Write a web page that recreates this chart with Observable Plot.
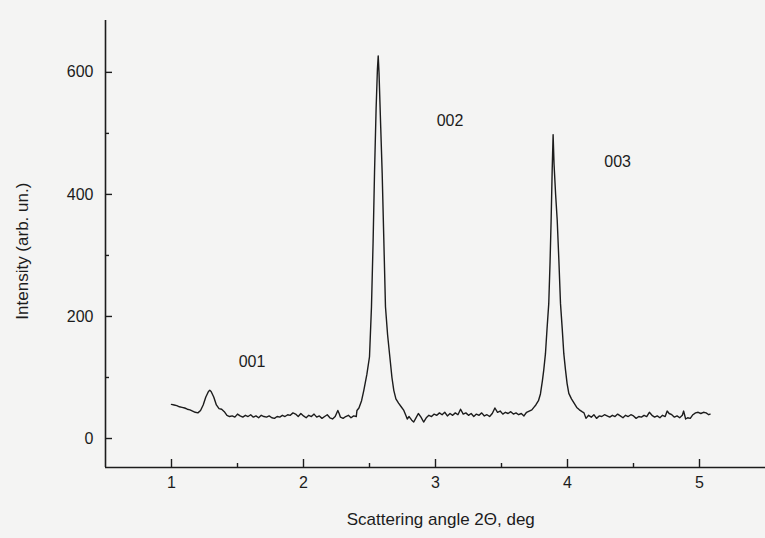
<!DOCTYPE html>
<html>
<head>
<meta charset="utf-8">
<script src="https://cdn.jsdelivr.net/npm/d3@7"></script>
<script src="https://cdn.jsdelivr.net/npm/@observablehq/plot@0.6"></script>
<style>
  html, body { margin: 0; padding: 0; background: #f4f4f3; }
  #chart svg { display: block; background: #f4f4f3; }
</style>
</head>
<body>
<div id="chart"></div>
<script>
// Scattering angle 2Θ (deg)
const angle = [
  1.00, 1.02, 1.04, 1.06, 1.08, 1.10, 1.12, 1.14, 1.16, 1.18, 1.20, 1.22, 1.24, 1.26, 1.28, 1.29, 1.30, 1.32, 1.34, 1.36,
  1.38, 1.40, 1.42, 1.44, 1.46, 1.48, 1.50, 1.52, 1.54, 1.56, 1.58, 1.60, 1.62, 1.64, 1.66, 1.68, 1.70, 1.72, 1.74, 1.76,
  1.78, 1.80, 1.82, 1.84, 1.86, 1.88, 1.90, 1.92, 1.94, 1.96, 1.98, 2.00, 2.02, 2.04, 2.06, 2.08, 2.10, 2.12, 2.14, 2.16,
  2.18, 2.20, 2.22, 2.24, 2.26, 2.27, 2.28, 2.30, 2.32, 2.34, 2.36, 2.38, 2.40, 2.405, 2.42, 2.44, 2.457, 2.48, 2.50, 2.515,
  2.527, 2.538, 2.55, 2.56, 2.566, 2.572, 2.585, 2.596, 2.608, 2.621, 2.637, 2.654, 2.67, 2.684, 2.70, 2.72, 2.74, 2.76, 2.775, 2.786,
  2.80, 2.82, 2.835, 2.85, 2.87, 2.89, 2.91, 2.93, 2.95, 2.97, 2.99, 3.01, 3.03, 3.05, 3.07, 3.09, 3.11, 3.13, 3.15, 3.17,
  3.19, 3.21, 3.23, 3.25, 3.27, 3.29, 3.31, 3.33, 3.35, 3.37, 3.39, 3.41, 3.43, 3.45, 3.47, 3.49, 3.51, 3.53, 3.55, 3.57,
  3.59, 3.61, 3.63, 3.65, 3.67, 3.69, 3.71, 3.73, 3.745, 3.76, 3.78, 3.795, 3.81, 3.82, 3.833, 3.845, 3.858, 3.868, 3.876, 3.884,
  3.891, 3.898, 3.91, 3.922, 3.935, 3.947, 3.96, 3.972, 3.985, 3.997, 4.01, 4.03, 4.05, 4.07, 4.09, 4.11, 4.125, 4.14, 4.16, 4.18,
  4.20, 4.22, 4.24, 4.26, 4.28, 4.30, 4.32, 4.34, 4.36, 4.38, 4.40, 4.42, 4.44, 4.46, 4.48, 4.50, 4.52, 4.54, 4.56, 4.58,
  4.60, 4.62, 4.64, 4.66, 4.68, 4.70, 4.72, 4.74, 4.755, 4.77, 4.79, 4.81, 4.83, 4.85, 4.87, 4.88, 4.895, 4.91, 4.93, 4.95,
  4.97, 4.99, 5.01, 5.03, 5.05, 5.07, 5.08
];
// Intensity (arb. un.)
const intensity = [
  56, 55, 54, 52, 51, 50, 48, 47, 45, 43, 42, 46, 55, 68, 77, 79, 77, 68, 55, 49,
  48, 44, 38, 36, 37, 35, 40, 37, 35, 38, 36, 39, 35, 37, 34, 38, 36, 35, 37, 34,
  33, 36, 35, 38, 36, 39, 38, 42, 40, 36, 41, 37, 34, 38, 36, 40, 35, 37, 33, 36,
  39, 34, 32, 36, 46, 41, 35, 33, 36, 38, 34, 37, 36, 46, 50, 62, 79, 105, 134, 216,
  320, 435, 540, 605, 627, 600, 510, 435, 330, 216, 170, 134, 100, 79, 65, 58, 52, 46, 38, 32,
  36, 30, 27, 33, 41, 35, 27, 34, 38, 36, 40, 38, 42, 39, 43, 37, 41, 38, 42, 39,
  48, 40, 42, 38, 41, 36, 40, 38, 42, 37, 39, 36, 41, 50, 43, 45, 40, 43, 41, 44,
  40, 42, 39, 41, 37, 43, 45, 47, 51, 55, 62, 73, 95, 112, 139, 180, 221, 290, 358, 440,
  498, 450, 400, 358, 290, 221, 180, 139, 112, 90, 74, 65, 58, 51, 47, 44, 42, 33, 38, 35,
  39, 33, 37, 36, 39, 37, 35, 38, 36, 40, 37, 34, 38, 36, 39, 37, 33, 36, 35, 38,
  36, 43, 38, 35, 37, 34, 38, 36, 45, 41, 39, 35, 37, 34, 38, 45, 32, 34, 33, 39,
  42, 43, 41, 43, 42, 39, 40
];
// Reflection labels
const peakLabels = ["001", "002", "003"];
const peakLabelX = [1.61, 3.11, 4.38];
const peakLabelY = [125, 520, 453];

const xTicks = [1, 2, 3, 4, 5];
const xMinor = [1.5, 2.5, 3.5, 4.5];
const yTicks = [0, 200, 400, 600];
const yMinor = [100, 300, 500];

const xDomain = [0.5, 5.5];
const yDomain = [-47.5, 685];

const W = 765, H = 538, ML = 105, MT = 20, MR = 0, MB = 71;
const frameW = W - ML - MR, frameH = H - MT - MB;

const series = angle.map((a, i) => ({angle: a, intensity: intensity[i]}));
const labels = peakLabels.map((t, i) => ({text: t, x: peakLabelX[i], y: peakLabelY[i]}));

const ink = "#1c1c1c";
const font = "Liberation Sans, Arial, sans-serif";

// inward tick marks: a tick spans the frame, inset leaves only the tick length
const xTickMark = (values, len) => Plot.tickX(values.map(v => ({v})), {x: "v", insetTop: frameH - len, stroke: ink, strokeWidth: 1.4});
const yTickMark = (values, len) => Plot.tickY(values.map(v => ({v})), {y: "v", insetRight: frameW - len, stroke: ink, strokeWidth: 1.4});

const chart = Plot.plot({
  width: W,
  height: H,
  marginLeft: ML,
  marginTop: MT,
  marginRight: MR,
  marginBottom: MB,
  style: {fontFamily: font, fontSize: "16px", color: ink, background: "#f4f4f3"},
  x: {domain: xDomain},
  y: {domain: yDomain},
  marks: [
    Plot.axisX(xTicks.slice(), {tickSize: 0, tickPadding: 9, label: null, fontSize: 16, fill: ink, tickFormat: d => String(d)}),
    Plot.axisY(yTicks.slice(), {tickSize: 0, tickPadding: 12, label: null, fontSize: 16, fill: ink, tickFormat: d => String(d)}),
    xTickMark(xTicks, 8),
    xTickMark(xMinor, 4),
    yTickMark(yTicks, 7),
    yTickMark(yMinor, 4),
    Plot.ruleX([xDomain[0]], {stroke: ink, strokeWidth: 1.6}),
    Plot.ruleY([yDomain[0]], {stroke: ink, strokeWidth: 1.6}),
    Plot.line(series, {x: "angle", y: "intensity", stroke: ink, strokeWidth: 1.4, curve: "linear"}),
    Plot.text(labels, {x: "x", y: "y", text: "text", fontSize: 16, fill: ink}),
    Plot.text(["Intensity (arb. un.)"], {frameAnchor: "left", y: 307, dx: -83, rotate: -90, fontSize: 17, fill: ink, textAnchor: "middle"}),
    Plot.text(["Scattering angle 2Θ, deg"], {frameAnchor: "bottom", x: 3.04, dy: 57, fontSize: 17, fill: ink, textAnchor: "middle"})
  ]
});
document.getElementById("chart").append(chart);
</script>
</body>
</html>
